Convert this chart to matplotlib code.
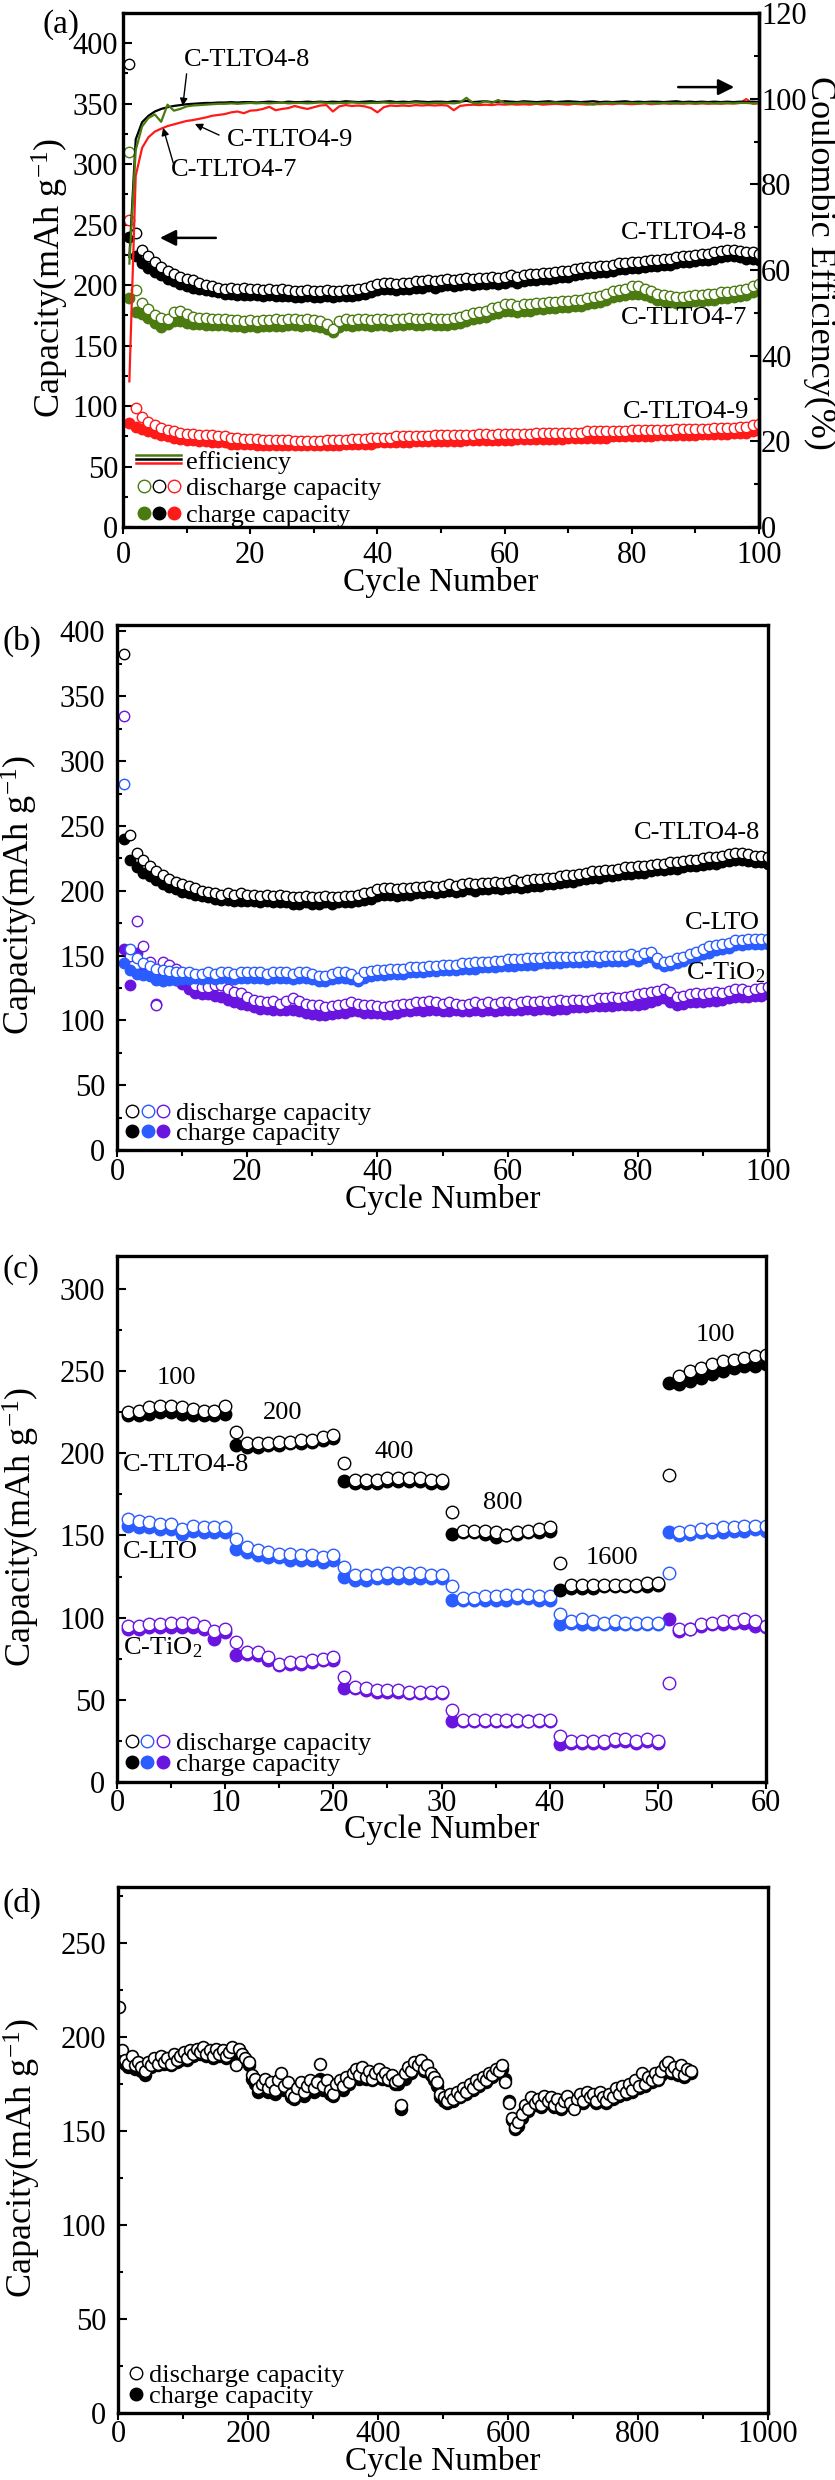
import numpy as np
import matplotlib
matplotlib.use('Agg')
import matplotlib.pyplot as plt
from matplotlib.ticker import MultipleLocator
from matplotlib.legend_handler import HandlerTuple, HandlerBase
from matplotlib.lines import Line2D

plt.rcParams['font.family'] = ['Liberation Serif', 'DejaVu Serif']
plt.rcParams['mathtext.fontset'] = 'custom'
plt.rcParams['mathtext.rm'] = 'Liberation Serif'
plt.rcParams['mathtext.it'] = 'Liberation Serif:italic'
plt.rcParams['mathtext.bf'] = 'Liberation Serif:bold'

# ---------------- data: panel (a) / (b) ----------------
cyc100 = np.arange(1, 101)

tlto8_dis = [383, 243, 229, 224, 219, 215, 212, 209, 207, 205,
             204, 202, 200, 199, 198, 197, 198, 197, 198, 197,
             197, 196, 197, 196, 197, 196, 195, 195, 196, 195,
             195, 196, 195, 195, 196, 196, 197, 198, 199, 201,
             202, 202, 201, 202, 202, 203, 203, 204, 203, 204,
             205, 204, 205, 206, 205, 206, 206, 207, 206, 207,
             208, 207, 208, 209, 209, 210, 210, 211, 212, 212,
             213, 214, 215, 215, 216, 216, 217, 218, 218, 219,
             219, 220, 221, 221, 222, 222, 223, 224, 224, 225,
             226, 226, 227, 228, 229, 229, 228, 227, 227, 226]
tlto8_chg = [240, 224, 218, 214, 211, 208, 205, 203, 201, 199,
             198, 197, 196, 195, 194, 193, 193, 192, 192, 192,
             192, 191, 192, 191, 191, 191, 190, 190, 191, 190,
             190, 191, 190, 191, 191, 191, 192, 193, 194, 196,
             197, 197, 196, 197, 197, 198, 198, 199, 198, 199,
             200, 199, 200, 201, 200, 201, 201, 202, 201, 202,
             203, 202, 203, 204, 204, 205, 205, 206, 207, 207,
             208, 209, 210, 210, 211, 211, 212, 213, 213, 214,
             214, 215, 216, 216, 217, 217, 218, 219, 219, 220,
             221, 221, 222, 223, 224, 224, 223, 222, 222, 221]
tlto7_dis = [310, 196, 185, 180, 175, 173, 172, 178, 179, 176,
             174, 173, 173, 172, 172, 172, 171, 171, 170, 171,
             170, 171, 171, 172, 171, 172, 172, 171, 172, 171,
             170, 168, 164, 170, 172, 171, 172, 172, 171, 172,
             172, 171, 172, 172, 173, 172, 172, 173, 172, 172,
             172, 173, 174, 175, 177, 178, 179, 181, 182, 184,
             184, 183, 184, 184, 185, 185, 186, 186, 187, 187,
             188, 188, 189, 190, 191, 193, 195, 196, 197, 199,
             199, 197, 195, 193, 192, 191, 190, 190, 191, 192,
             192, 193, 193, 194, 194, 195, 196, 197, 199, 201]
tlto7_chg = [189, 178, 176, 173, 169, 165, 168, 170, 170, 169,
             168, 168, 167, 167, 167, 167, 166, 166, 165, 166,
             165, 166, 166, 166, 166, 167, 167, 166, 167, 166,
             165, 164, 161, 165, 167, 166, 167, 167, 166, 167,
             167, 166, 167, 167, 168, 167, 167, 168, 167, 167,
             167, 168, 169, 170, 172, 173, 174, 176, 177, 179,
             179, 178, 179, 179, 180, 180, 181, 181, 182, 182,
             183, 183, 184, 185, 186, 188, 190, 191, 192, 193,
             193, 192, 190, 188, 187, 186, 185, 185, 186, 187,
             187, 188, 188, 189, 189, 190, 191, 192, 194, 196]
tlto9_dis = [254, 98, 91, 87, 84, 82, 80, 79, 78, 77,
             77, 76, 76, 76, 75, 75, 74, 74, 73, 73,
             73, 72, 72, 72, 72, 72, 71, 71, 71, 71,
             71, 72, 72, 72, 72, 73, 73, 73, 74, 74,
             74, 74, 75, 75, 75, 75, 75, 75, 76, 76,
             76, 76, 76, 76, 76, 77, 77, 76, 77, 77,
             77, 77, 77, 77, 78, 78, 78, 78, 78, 78,
             78, 78, 79, 79, 79, 79, 79, 79, 79, 80,
             80, 80, 80, 80, 80, 80, 81, 81, 81, 81,
             81, 81, 82, 82, 82, 82, 83, 83, 84, 85]
tlto9_chg = [86, 83, 81, 79, 78, 76, 75, 74, 73, 72,
             72, 71, 71, 70, 70, 70, 69, 69, 69, 69,
             68, 68, 68, 68, 68, 68, 68, 68, 68, 68,
             68, 68, 68, 68, 69, 69, 69, 69, 69, 70,
             70, 70, 70, 70, 70, 71, 71, 71, 71, 71,
             71, 71, 71, 72, 72, 72, 72, 72, 72, 72,
             72, 73, 73, 73, 73, 73, 73, 73, 73, 74,
             74, 74, 74, 74, 74, 74, 75, 75, 75, 75,
             75, 75, 75, 76, 76, 76, 76, 76, 76, 76,
             77, 77, 77, 77, 77, 78, 78, 78, 79, 80]

eff8 = [63.0, 90.5, 94.5, 96.0, 97.0, 97.6, 98.0, 98.3, 98.5, 98.7,
        98.8, 98.9, 99.0, 99.0, 99.1, 99.1, 99.2, 99.1, 99.2, 99.2,
        99.1, 99.2, 99.3, 99.2, 99.1, 99.3, 99.2, 99.2, 99.3, 99.2,
        99.3, 99.2, 99.3, 99.2, 99.4, 99.3, 99.2, 99.3, 99.4, 99.2,
        99.3, 99.4, 99.2, 99.3, 99.2, 99.4, 99.3, 99.2, 99.3, 99.3,
        99.2, 99.4, 99.3, 99.5, 99.2, 99.3, 99.4, 99.2, 99.3, 99.4,
        99.3, 99.2, 99.4, 99.3, 99.2, 99.3, 99.4, 99.2, 99.3, 99.4,
        99.3, 99.2, 99.3, 99.4, 99.2, 99.3, 99.2, 99.3, 99.4, 99.2,
        99.3, 99.2, 99.3, 99.3, 99.2, 99.3, 99.4, 99.2, 99.3, 99.2,
        99.3, 99.2, 99.3, 99.2, 99.3, 99.2, 99.3, 99.2, 99.3, 99.2]
eff7 = [61.5, 88.0, 93.5, 95.5, 96.3, 94.6, 98.6, 97.2, 97.6, 98.2,
        98.4, 98.5, 98.6, 98.7, 98.8, 98.8, 98.9, 98.8, 98.9, 99.0,
        98.9, 99.0, 98.9, 99.0, 99.1, 98.9, 99.0, 99.0, 98.9, 99.0,
        99.1, 99.0, 98.9, 99.0, 99.0, 99.1, 99.0, 98.9, 99.0, 99.0,
        99.1, 99.0, 99.0, 98.9, 99.0, 99.1, 99.0, 98.9, 99.0, 99.0,
        99.0, 98.9, 99.1, 100.2, 99.0, 98.9, 99.4, 99.0, 99.7, 99.0,
        98.9, 99.0, 99.1, 99.0, 98.9, 99.0, 99.0, 99.1, 98.9, 99.0,
        98.9, 99.0, 98.8, 98.6, 98.9, 99.0, 99.0, 98.9, 99.0, 99.0,
        98.9, 99.0, 99.0, 98.9, 99.0, 99.0, 98.9, 99.0, 99.0, 98.9,
        99.0, 99.0, 98.9, 99.0, 99.0, 98.9, 99.0, 99.0, 98.9, 99.0]
eff9 = [34.0, 82.0, 88.5, 91.0, 92.3, 93.0, 93.6, 94.0, 94.4, 94.8,
        95.0, 95.3, 95.6, 96.0, 96.2, 96.4, 96.8, 97.0, 96.6, 97.2,
        97.3, 97.6, 98.1, 97.3, 97.6, 97.8, 98.3, 97.9, 97.6, 98.0,
        98.4, 98.5, 97.0, 98.2, 98.5, 98.3, 98.4, 98.2, 97.8, 96.8,
        98.0, 98.4, 98.3, 98.4, 98.3, 98.5, 98.4, 98.5, 98.4, 98.5,
        98.4, 97.3, 98.3, 98.5, 98.6, 98.5, 98.6, 98.5, 98.7, 98.6,
        98.7, 98.6, 98.7, 98.6, 98.8, 98.6, 98.7, 98.8, 98.7, 98.6,
        98.8, 98.7, 98.6, 98.8, 98.7, 98.8, 98.7, 98.9, 98.8, 98.7,
        98.8, 98.9, 98.7, 98.8, 98.9, 98.8, 98.9, 98.8, 98.9, 98.8,
        98.9, 98.8, 98.9, 98.8, 98.9, 98.9, 99.0, 99.9, 98.8, 98.9]

lto_dis = [282, 155, 148, 144, 142, 140, 139, 138, 137, 137,
           137, 136, 136, 137, 136, 137, 137, 136, 137, 137,
           137, 137, 136, 137, 137, 137, 136, 137, 137, 136,
           134, 134, 136, 137, 137, 136, 133, 137, 138, 139,
           139, 140, 140, 140, 141, 141, 141, 142, 142, 143,
           143, 143, 144, 144, 145, 145, 145, 146, 146, 147,
           147, 147, 148, 148, 148, 149, 149, 149, 149, 149,
           149, 150, 150, 149, 150, 150, 150, 150, 151, 150,
           152, 153, 148, 145, 146, 148, 149, 151, 153, 155,
           157, 158, 159, 160, 162, 162, 163, 163, 163, 163]
lto_chg = [144, 139, 136, 135, 134, 131, 130, 131, 131, 132,
           132, 133, 132, 133, 132, 133, 133, 132, 133, 133,
           133, 133, 132, 133, 133, 133, 132, 133, 133, 132,
           130, 130, 132, 133, 133, 132, 130, 133, 134, 135,
           135, 136, 136, 136, 137, 137, 137, 138, 138, 139,
           139, 139, 140, 140, 140, 141, 141, 141, 142, 142,
           142, 143, 143, 143, 144, 144, 144, 144, 145, 145,
           145, 145, 146, 145, 146, 146, 146, 146, 147, 146,
           148, 149, 144, 142, 143, 144, 146, 148, 149, 151,
           152, 154, 155, 156, 158, 158, 159, 159, 159, 159]
tio_dis = [335, 150, 177, 157, 145, 112, 145, 143, 140, 136,
           131, 127, 126, 126, 127, 127, 124, 122, 121, 118,
           116, 115, 114, 115, 113, 115, 117, 115, 113, 112,
           112, 110, 111, 112, 113, 114, 113, 112, 112, 111,
           110, 111, 112, 113, 113, 114, 114, 115, 114, 113,
           114, 113, 112, 113, 114, 113, 114, 113, 114, 114,
           113, 114, 115, 114, 115, 114, 115, 116, 115, 116,
           116, 115, 116, 117, 117, 118, 117, 118, 119, 120,
           121, 122, 123, 124, 122, 118, 119, 120, 121, 120,
           121, 122, 121, 123, 124, 124, 123, 124, 125, 126]
tio_chg = [155, 127, 152, 137, 135, 113, 137, 135, 131, 128,
           124, 121, 120, 120, 119, 118, 116, 114, 113, 112,
           110, 109, 109, 108, 108, 108, 108, 107, 106, 105,
           104, 104, 105, 106, 106, 107, 107, 106, 106, 106,
           105, 105, 106, 107, 107, 108, 107, 108, 108, 107,
           107, 108, 107, 107, 108, 107, 108, 107, 108, 108,
           108, 108, 109, 108, 109, 109, 108, 109, 109, 110,
           110, 110, 111, 111, 111, 111, 112, 112, 112, 112,
           113, 114, 116, 117, 114, 112, 113, 114, 114, 114,
           115, 115, 116, 117, 118, 118, 118, 119, 119, 120]

# ---------------- data: panel (c) rate ----------------
cyc60 = np.arange(1, 61)
rate_labels = ['100', '200', '400', '800', '1600', '100']
r8_dis = [225, 226, 228, 229, 229, 228, 227, 226, 226, 229,
          213, 206, 206, 206, 207, 207, 208, 208, 210, 211,
          194, 184, 184, 184, 185, 185, 185, 185, 184, 184,
          164, 153, 153, 153, 152, 150, 152, 153, 154, 155,
          133, 120, 120, 120, 120, 120, 120, 120, 121, 121,
          187, 247, 250, 252, 254, 256, 257, 258, 259, 260]
r8_chg = [223, 223, 224, 225, 225, 224, 223, 223, 223, 224,
          205, 204, 204, 205, 205, 206, 206, 207, 208, 209,
          183, 182, 182, 182, 183, 183, 183, 183, 182, 182,
          151, 152, 152, 151, 149, 150, 151, 152, 152, 153,
          117, 118, 118, 118, 119, 119, 119, 119, 119, 120,
          243, 242, 244, 246, 248, 250, 252, 253, 253, 254]
rl_dis = [160, 159, 158, 157, 157, 154, 156, 155, 155, 155,
          148, 143, 141, 140, 139, 139, 138, 138, 137, 138,
          131, 126, 126, 126, 127, 127, 127, 127, 126, 126,
          119, 112, 112, 113, 113, 114, 114, 114, 113, 113,
          102, 98, 99, 98, 97, 98, 97, 97, 97, 97,
          127, 152, 153, 154, 154, 155, 155, 156, 156, 156]
rl_chg = [156, 155, 155, 154, 154, 151, 153, 152, 152, 152,
          142, 140, 138, 137, 137, 135, 135, 135, 134, 135,
          125, 123, 123, 124, 124, 124, 124, 124, 124, 124,
          111, 111, 111, 111, 111, 111, 112, 112, 111, 111,
          96, 97, 96, 96, 96, 96, 96, 96, 96, 96,
          152, 150, 151, 152, 152, 152, 153, 153, 154, 153]
rt_dis = [95, 95, 96, 96, 97, 97, 97, 95, 92, 93,
          85, 79, 79, 76, 72, 73, 73, 74, 75, 76,
          64, 58, 57, 56, 56, 56, 55, 55, 55, 55,
          44, 38, 38, 38, 38, 38, 38, 37, 38, 38,
          28, 25, 25, 25, 25, 26, 26, 25, 26, 25,
          60, 93, 93, 96, 97, 98, 98, 99, 98, 95]
rt_chg = [93, 93, 94, 94, 94, 94, 94, 93, 87, 91,
          77, 78, 77, 74, 71, 72, 72, 73, 74, 74,
          57, 57, 56, 55, 55, 55, 54, 54, 54, 54,
          37, 37, 37, 37, 37, 37, 37, 37, 37, 37,
          23, 24, 24, 24, 24, 25, 25, 24, 25, 24,
          99, 92, 93, 95, 96, 96, 97, 97, 95, 94]

# ---------------- data: panel (d) long cycling (every 5th cycle) ----------------
cyc_long = np.arange(1, 882, 5)
long_dis = [216, 193, 188, 186, 190, 185, 187, 184, 182, 187,
            185, 189, 186, 190, 187, 189, 186, 191, 188, 190,
            192, 189, 193, 191, 194, 192, 195, 191, 193, 190,
            194, 191, 193, 190, 192, 195, 185, 194, 191, 189,
            187, 180, 178, 173, 175, 178, 173, 176, 172, 177,
            181, 174, 176, 170, 168, 173, 176, 171, 174, 177,
            173, 176, 186, 174, 177, 172, 170, 175, 177, 174,
            179, 176, 181, 183, 180, 184, 179, 182, 178, 181,
            183, 179, 181, 178, 180, 176, 177, 164, 181, 184,
            182, 187, 185, 188, 183, 185, 181, 179, 176, 170,
            168, 166, 170, 167, 171, 169, 173, 171, 175, 173,
            177, 175, 179, 177, 181, 180, 183, 182, 185, 176,
            165, 157, 152, 155, 159, 164, 162, 168, 165, 167,
            164, 169, 166, 168, 164, 167, 163, 166, 169, 165,
            162, 167, 170, 166, 171, 168, 170, 166, 171, 168,
            166, 170, 168, 173, 170, 174, 171, 175, 172, 177,
            174, 181, 175, 179, 177, 181, 178, 182, 185, 187,
            182, 184, 181, 185, 180, 183, 182]
long_chg = [190, 189, 186, 184, 187, 183, 185, 182, 180, 184,
            184, 186, 185, 187, 186, 187, 185, 189, 187, 188,
            190, 188, 191, 190, 192, 191, 193, 190, 191, 189,
            192, 190, 191, 189, 191, 193, 187, 192, 190, 188,
            185, 178, 175, 171, 173, 175, 171, 174, 170, 174,
            176, 172, 174, 168, 167, 171, 173, 169, 172, 174,
            171, 173, 178, 172, 174, 170, 169, 173, 175, 172,
            177, 175, 179, 181, 178, 182, 178, 180, 177, 179,
            181, 178, 179, 177, 178, 175, 175, 162, 178, 182,
            181, 185, 184, 186, 182, 183, 180, 177, 174, 168,
            166, 165, 168, 166, 169, 168, 171, 170, 173, 172,
            175, 174, 177, 176, 179, 179, 181, 181, 183, 178,
            166, 156, 151, 153, 157, 162, 161, 166, 164, 165,
            163, 167, 165, 166, 163, 165, 162, 165, 167, 164,
            163, 165, 168, 165, 169, 167, 168, 165, 169, 167,
            165, 168, 167, 171, 169, 172, 170, 173, 171, 175,
            173, 178, 174, 177, 176, 179, 177, 180, 183, 185,
            181, 182, 180, 183, 179, 181, 181]

# ---------------- styling ----------------
GREEN = '#4b7b10'
RED = '#ff1a1a'
BLACK = '#000000'
BLUE = '#2a5cff'
PURPLE = '#6a14e0'

W, H = 835, 2480
fig = plt.figure(figsize=(W / 100, H / 100), dpi=100)


def px_axes(l, t, r, b):
    return fig.add_axes([l / W, 1 - b / H, (r - l) / W, (b - t) / H])


def style(ax, xmaj, xmin, ymaj, ymin, ypad, xpad):
    for s in ax.spines.values():
        s.set_linewidth(2.4)
    ax.xaxis.set_major_locator(MultipleLocator(xmaj))
    ax.xaxis.set_minor_locator(MultipleLocator(xmin))
    ax.yaxis.set_major_locator(MultipleLocator(ymaj))
    ax.yaxis.set_minor_locator(MultipleLocator(ymin))
    ax.tick_params(axis='x', which='major', direction='out', length=5, width=1.5,
                   labelsize=22, pad=xpad, top=False)
    ax.tick_params(axis='x', which='minor', direction='out', length=4, width=1.5, top=False)
    ax.tick_params(axis='y', which='major', direction='in', length=6.5, width=1.5,
                   labelsize=22, pad=ypad, right=False)
    ax.tick_params(axis='y', which='minor', direction='in', length=3.5, width=1.5, right=False)


def open_pts(ax, x, y, c, ms=7.5, mew=1.0):
    ax.plot(x, y, 'o', ls='none', ms=ms, mfc='white', mec=c, mew=mew)


def full_pts(ax, x, y, c, ms=7.5, mew=1.0):
    ax.plot(x, y, 'o', ls='none', ms=ms, mfc=c, mec=c, mew=mew)


class EffHandle:
    pass


class HandlerEff(HandlerBase):
    def __init__(self, colors, gap=3.0, lw=1.8):
        super().__init__()
        self.colors = colors
        self.gap = gap
        self.lw = lw

    def create_artists(self, legend, orig_handle, xdescent, ydescent, width, height,
                       fontsize, trans):
        arts = []
        yc = height / 2 - ydescent
        for i, c in enumerate(self.colors):
            y = yc + (1 - i) * self.gap
            ln = Line2D([-xdescent, width - xdescent], [y, y], color=c, lw=self.lw)
            ln.set_transform(trans)
            arts.append(ln)
        return arts


def circ_tuple(colors, filled, ms=9):
    return tuple(Line2D([], [], marker='o', ls='none', ms=ms,
                        mfc=(c if filled else 'white'), mec=c, mew=1.0) for c in colors)


def add_legend(ax, handles, labels, anchor, hl, spacing, hmap=None):
    hm = {tuple: HandlerTuple(ndivide=None, pad=0)}
    if hmap:
        hm.update(hmap)
    ax.legend(handles, labels, handler_map=hm, loc='center left', bbox_to_anchor=anchor,
              frameon=False, fontsize=19, handlelength=hl, handletextpad=0.2,
              labelspacing=spacing, borderpad=0, borderaxespad=0)


YLAB = 'Capacity(mAh g$^{-1}$)'

# ---------------- panel (a) ----------------
axa = px_axes(123, 13, 759, 527)
style(axa, 20, 10, 50, 25, ypad=3.5, xpad=5.0)
axa.set_xlim(0, 100)
axa.set_ylim(0, 425)
for dis, chg, c in [(tlto7_dis, tlto7_chg, GREEN), (tlto8_dis, tlto8_chg, BLACK),
                    (tlto9_dis, tlto9_chg, RED)]:
    full_pts(axa, cyc100, chg, c)
    open_pts(axa, cyc100, dis, c)
axa.set_ylabel(YLAB, fontsize=26)
axa.yaxis.set_label_coords(-0.081, 0.485)
axa.set_xlabel('Cycle Number', fontsize=24)
axa.xaxis.set_label_coords(0.5, -0.078)

axb2 = axa.twinx()
axb2.set_ylim(0, 120)
axb2.spines['right'].set_linewidth(2.4)
axb2.yaxis.set_major_locator(MultipleLocator(20))
axb2.yaxis.set_minor_locator(MultipleLocator(10))
axb2.tick_params(axis='y', which='major', direction='in', length=6.5, width=1.5,
                 labelsize=22, pad=1.5)
axb2.tick_params(axis='y', which='minor', direction='in', length=3.5, width=1.5)
axb2.plot(cyc100, eff9, color=RED, lw=1.6)
axb2.plot(cyc100, eff8, color=BLACK, lw=1.6)
axb2.plot(cyc100, eff7, color=GREEN, lw=1.6)
axb2.set_ylabel('Coulombic Efficiency(%)', fontsize=26, rotation=270, va='bottom')
axb2.yaxis.set_label_coords(1.069, 0.513)

thin = dict(arrowstyle='-|>', color='black', lw=1.0, mutation_scale=11, shrinkA=0, shrinkB=0)
thick = dict(arrowstyle='-|>', color='black', lw=1.8, mutation_scale=24, shrinkA=0, shrinkB=0)
axb2.annotate('', xy=(9.4, 98.3), xytext=(10.0, 105.8), arrowprops=thin)
axb2.annotate('', xy=(11.3, 94.1), xytext=(15.1, 91.5), arrowprops=thin)
axb2.annotate('', xy=(6.3, 93.2), xytext=(7.9, 85.0), arrowprops=thin)
axb2.annotate('', xy=(96.1, 102.7), xytext=(87.3, 102.7), arrowprops=thick)
axb2.annotate('', xy=(5.8, 67.5), xytext=(14.6, 67.5), arrowprops=thick)
axb2.text(19.5, 109, 'C-TLTO4-8', fontsize=19, ha='center', va='center')
axb2.text(26.2, 90.3, 'C-TLTO4-9', fontsize=19, ha='center', va='center')
axb2.text(17.4, 83.3, 'C-TLTO4-7', fontsize=19, ha='center', va='center')
axa.text(98.1, 243, 'C-TLTO4-8', fontsize=19, ha='right', va='center')
axa.text(98.1, 173, 'C-TLTO4-7', fontsize=19, ha='right', va='center')
axa.text(98.5, 95, 'C-TLTO4-9', fontsize=19, ha='right', va='center')

cols_a = [GREEN, BLACK, RED]
add_legend(axa, [EffHandle(), circ_tuple(cols_a, False), circ_tuple(cols_a, True)],
           ['efficiency', 'discharge capacity', 'charge capacity'],
           (0.021, 0.075), 1.7, 0.12, {EffHandle: HandlerEff(cols_a)})

# ---------------- panel (b) ----------------
axb = px_axes(117, 625, 768, 1150)
style(axb, 20, 10, 50, 25, ypad=8.5, xpad=0.5)
axb.set_xlim(0, 100)
axb.set_ylim(0, 405)
for dis, chg, c in [(tio_dis, tio_chg, PURPLE), (lto_dis, lto_chg, BLUE),
                    (tlto8_dis, tlto8_chg, BLACK)]:
    full_pts(axb, cyc100, chg, c)
    open_pts(axb, cyc100, dis, c)
axb.set_ylabel(YLAB, fontsize=26)
axb.yaxis.set_label_coords(-0.119, 0.485)
axb.set_xlabel('Cycle Number', fontsize=24)
axb.xaxis.set_label_coords(0.5, -0.064)
axb.text(98.8, 244.5, 'C-TLTO4-8', fontsize=19, ha='right', va='center')
axb.text(98.8, 175, 'C-LTO', fontsize=19, ha='right', va='center')
axb.text(99.6, 136.5, 'C-TiO$_2$', fontsize=19, ha='right', va='center')
cols_b = [BLACK, BLUE, PURPLE]
add_legend(axb, [circ_tuple(cols_b, False), circ_tuple(cols_b, True)],
           ['discharge capacity', 'charge capacity'], (0.0115, 0.0505), 1.76, -0.12)

# ---------------- panel (c) ----------------
axc = px_axes(117, 1256, 766, 1782)
style(axc, 10, 5, 50, 25, ypad=8.5, xpad=0.0)
axc.set_xlim(0, 60)
axc.set_ylim(0, 320)
for dis, chg, c in [(rt_dis, rt_chg, PURPLE), (rl_dis, rl_chg, BLUE), (r8_dis, r8_chg, BLACK)]:
    full_pts(axc, cyc60, chg, c, ms=9)
    open_pts(axc, cyc60, dis, c, ms=9)
axc.set_ylabel(YLAB, fontsize=26)
axc.yaxis.set_label_coords(-0.115, 0.485)
axc.set_xlabel('Cycle Number', fontsize=24)
axc.xaxis.set_label_coords(0.5, -0.06)
for lab, (x, y) in zip(rate_labels, [(5.45, 245.8), (15.3, 224.5), (25.6, 200.8),
                                     (35.7, 169.7), (45.8, 136.3), (55.3, 272)]):
    axc.text(x, y, lab, fontsize=19, ha='center', va='center')
axc.text(0.55, 192.9, 'C-TLTO4-8', fontsize=19, ha='left', va='center')
axc.text(0.55, 140, 'C-LTO', fontsize=19, ha='left', va='center')
axc.text(0.55, 81.5, 'C-TiO$_2$', fontsize=19, ha='left', va='center')
add_legend(axc, [circ_tuple(cols_b, False), circ_tuple(cols_b, True)],
           ['discharge capacity', 'charge capacity'], (0.011, 0.054), 1.76, -0.1)

# ---------------- panel (d) ----------------
axd = px_axes(118, 1887, 768, 2413)
style(axd, 200, 100, 50, 25, ypad=8.5, xpad=0.0)
axd.set_xlim(0, 1000)
axd.set_ylim(0, 280)
full_pts(axd, cyc_long, long_chg, BLACK, ms=8.5, mew=1.2)
open_pts(axd, cyc_long, long_dis, BLACK, ms=8.5, mew=1.2)
axd.set_ylabel(YLAB, fontsize=26)
axd.yaxis.set_label_coords(-0.116, 0.485)
axd.set_xlabel('Cycle Number', fontsize=24)
axd.xaxis.set_label_coords(0.5, -0.063)
add_legend(axd, [circ_tuple([BLACK], False), circ_tuple([BLACK], True)],
           ['discharge capacity', 'charge capacity'], (0.016, 0.0513), 0.57, -0.1)

# panel letters
for lab, (x, y) in zip(['(a)', '(b)', '(c)', '(d)'], [(42, 25), (3, 641), (3, 1270), (3, 1903)]):
    fig.text(x / W, 1 - y / H, lab, fontsize=24, ha='left', va='center')

fig.savefig('out.png', dpi=100)
